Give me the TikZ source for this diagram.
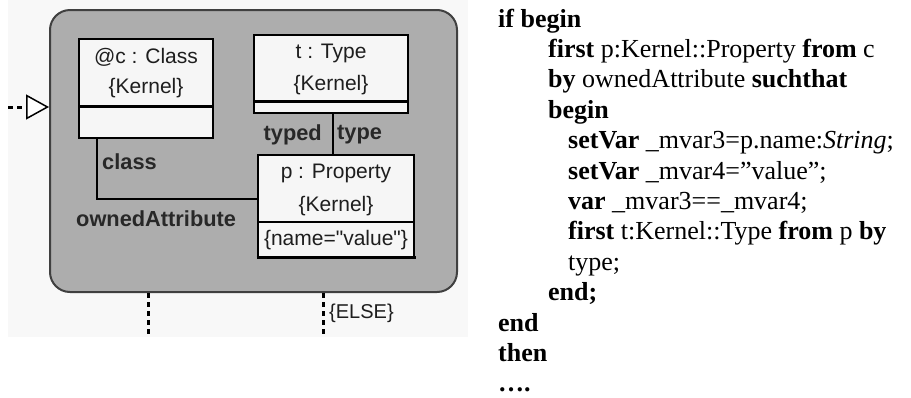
\documentclass[tikz,border=0pt]{standalone}
\usepackage{fontspec}
\setmainfont{Liberation Serif}
\newfontfamily\uifont{Liberation Sans}
\usetikzlibrary{arrows.meta}

\definecolor{backdrop}{RGB}{248,248,248}
\definecolor{panelfill}{RGB}{173,173,173}
\definecolor{paneledge}{RGB}{64,64,64}
\definecolor{boxfill}{RGB}{246,246,246}
\definecolor{inktext}{RGB}{30,30,30}
\definecolor{labelink}{RGB}{40,40,40}

\begin{document}
\begin{tikzpicture}[x=1pt,y=-1pt,
  panel/.style={draw=paneledge, fill=panelfill, line width=2pt, rounded corners=20pt,
    inner sep=0pt, minimum width=407pt, minimum height=282pt},
  umlbox/.style={draw=black, fill=boxfill, line width=1.5pt, inner sep=0pt},
  boxtext/.style={font=\uifont\fontsize{21}{25}\selectfont, text=inktext, inner sep=0pt, anchor=center},
  rolelabel/.style={font=\uifont\bfseries\fontsize{21.8}{25}\selectfont, text=labelink, inner sep=0pt},
  link/.style={line width=1.3pt, draw=black},
  flowdots/.style={line width=3pt, dash pattern=on 4.5pt off 4.5pt},
  codeline/.style={anchor=base west, inner sep=0pt, font=\fontsize{26}{30.4}\selectfont},
]

\useasboundingbox (0,0) rectangle (911,397);
\fill[backdrop] (8,0) rectangle (468,337);

% state panel
\node[panel] (panel) at (253.5,151) {};

% @c : Class
\node[umlbox, minimum width=134pt, minimum height=99pt] (cls) at (146,88.5) {};
\node[boxtext] (clsname) at (146,57) {@c : Class};
\node[boxtext] (clspkg) at (146,88) {\{Kernel\}};
\draw[line width=3pt] (cls.west |- 0,106) -- (cls.east |- 0,106);

% t : Type
\node[umlbox, minimum width=154pt, minimum height=78pt] (typ) at (331,74) {};
\node[boxtext] (typname) at (331,53) {t : Type};
\node[boxtext] (typpkg) at (331,85) {\{Kernel\}};
\draw[line width=3pt] (typ.west |- 0,101) -- (typ.east |- 0,101);

% p : Property
\node[umlbox, minimum width=156pt, minimum height=102pt] (prop) at (336,206) {};
\node[boxtext] (propname) at (336,173) {p : Property};
\node[boxtext] (proppkg) at (336,206) {\{Kernel\}};
\draw[line width=1.5pt] (prop.west |- 0,222) -- (prop.east |- 0,222);
\node[boxtext] (propcond) at (336,240) {\{name="value"\}};
\draw[line width=3pt] ([xshift=-0.75pt]prop.south west) -- ([xshift=0.75pt]prop.south east);

% links
\draw[link] (cls.south -| 97,0) |- ([yshift=7pt]prop.west);
\draw[link] (typ.south -| 333,0) -- (prop.north -| 333,0);

\node[rolelabel, anchor=west] (lblclass) at (102,162) {class};
\node[rolelabel, anchor=west] (lblowned) at (76,219) {ownedAttribute};
\node[rolelabel, anchor=east] (lbltyped) at (322,135) {typed};
\node[rolelabel, anchor=west] (lbltype) at (337,135) {type};

% incoming transition
\coordinate (entry) at (8,107);
\draw[flowdots, -{Triangle[open, length=23pt, width=25pt, line width=1.5pt, fill=white]}]
  (entry) -- (panel.west |- 0,107);

% outgoing transitions
\coordinate (exitA) at (148,336);
\coordinate (exitB) at (323,336);
\draw[flowdots] (panel.south -| exitA) -- (exitA);
\draw[flowdots] (panel.south -| exitB) -- (exitB);
\node[boxtext, anchor=west, font=\uifont\fontsize{20}{24}\selectfont] (elselbl) at (329,313) {\{ELSE\}};

% generated code
\node[codeline] (c0)  at (498,27)    {\textbf{if begin}};
\node[codeline] (c1)  at (548,57.4)  {\textbf{first} p:Kernel::Property \textbf{from} c};
\node[codeline] (c2)  at (548,87.8)  {\textbf{by} ownedAttribute \textbf{suchthat}};
\node[codeline] (c3)  at (548,118.2) {\textbf{begin}};
\node[codeline] (c4)  at (568,148.6) {\textbf{setVar} \_mvar3=p.name:\textit{String};};
\node[codeline] (c5)  at (568,179)   {\textbf{setVar} \_mvar4=”value”;};
\node[codeline] (c6)  at (568,209.4) {\textbf{var} \_mvar3==\_mvar4;};
\node[codeline] (c7)  at (568,239.8) {\textbf{first} t:Kernel::Type \textbf{from} p \textbf{by}};
\node[codeline] (c8)  at (568,270.2) {type;};
\node[codeline] (c9)  at (548,300.6) {\textbf{end;}};
\node[codeline] (c10) at (498,331)   {\textbf{end}};
\node[codeline] (c11) at (498,361.4) {\textbf{then}};
\node[codeline] (c12) at (498,391.8) {\textbf{….}};
\end{tikzpicture}
\end{document}
